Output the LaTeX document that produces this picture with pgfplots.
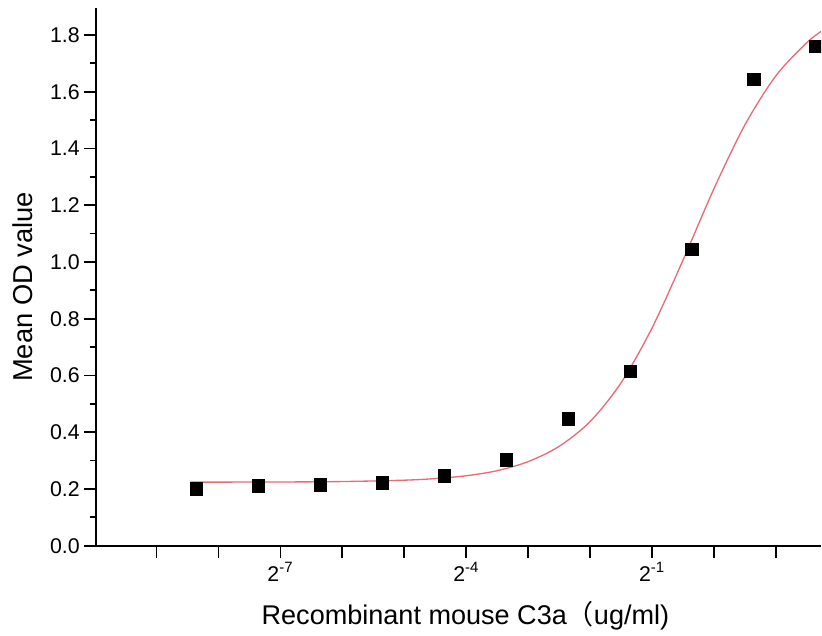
\documentclass[border=0pt]{standalone}
\usepackage{pgfplots}
\pgfplotsset{compat=1.18}
\usepackage{fontspec}
\setmainfont{Liberation Sans}
\newfontfamily\cjk{Noto Sans CJK SC}
\definecolor{fitred}{RGB}{232,108,118}

% x is log2 of the concentration (ug/ml)
\pgfplotstableread{
u        od
-8.356   0.201
-7.356   0.211
-6.356   0.215
-5.356   0.222
-4.356   0.247
-3.356   0.303
-2.356   0.447
-1.356   0.616
-0.356   1.046
0.644    1.645
1.644    1.761
}\measured

\pgfplotstableread{
u      od
-8.45  0.2241
-7.0   0.2247
-6.0   0.2262
-5.0   0.2310
-4.5   0.2367
-4.0   0.2466
-3.5   0.2644
-3.0   0.2963
-2.5   0.3502
-2.0   0.4373
-1.5   0.5740
-1.0   0.7670
-0.5   1.0060
0.0    1.2580
0.5    1.4830
1.0    1.6560
1.5    1.7730
1.75   1.8150
}\fitted

\begin{document}
\begin{tikzpicture}
\begin{axis}[
    scale only axis,
    width=543.75pt, height=403.5pt,
    xmin=-9.97, xmax=1.73,
    ymin=0, ymax=1.895,
    axis lines=left,
    axis line style={-, line width=1.4pt},
    tick style={line width=1.3pt, black},
    tick align=outside,
    major tick length=9pt,
    minor tick length=5pt,
    xtick={-9,-8,-7,-6,-5,-4,-3,-2,-1,0,1},
    xticklabels={,,2\textsuperscript{-7},,,2\textsuperscript{-4},,,2\textsuperscript{-1},,},
    ytick={0,0.2,0.4,0.6,0.8,1.0,1.2,1.4,1.6,1.8},
    minor y tick num=1,
    yticklabel style={/pgf/number format/.cd, fixed, fixed zerofill, precision=1},
    /pgf/number format/assume math mode=true,
    ticklabel style={font=\fontsize{16}{19}\selectfont},
    xlabel={Recombinant mouse C3a{\cjk （}ug/ml)},
    ylabel={Mean OD value},
    xlabel style={font=\fontsize{20.3}{24}\selectfont, at={(axis description cs:0.5,0)},
        anchor=base, yshift=-59.25pt, xshift=5pt, inner sep=4pt},
    % the label is turned by 90 degrees, so its own y points to the left
    ylabel style={font=\fontsize{20.5}{24}\selectfont, at={(axis description cs:0,0.5)},
        anchor=base, yshift=48pt, xshift=-7.5pt, inner sep=9.5pt},
    clip marker paths=true,
]
\addplot[fitred, line width=1pt, smooth] table[x=u, y=od] {\fitted};
\addplot[only marks, mark=square*, mark size=4.6pt, black] table[x=u, y=od] {\measured};
\end{axis}
\path ([yshift=6pt]current axis.north);
\end{tikzpicture}
\end{document}
